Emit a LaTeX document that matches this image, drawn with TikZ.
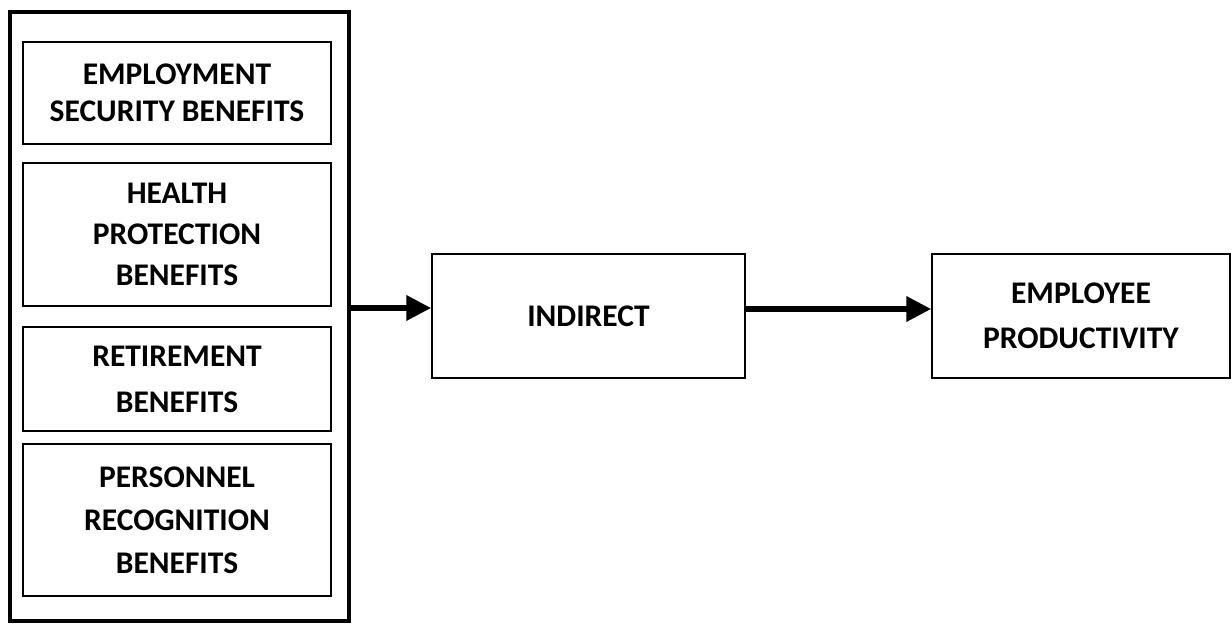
\documentclass[tikz,border=0pt]{standalone}
\usepackage{fontspec}
\setmainfont{Carlito}
\usetikzlibrary{arrows.meta}
\newcommand{\fs}[1]{\bfseries\fontsize{31.5}{#1}\selectfont}
\begin{document}
\begin{tikzpicture}[x=1pt,y=-1pt,
  box/.style={draw, line width=1.3pt, inner sep=0pt, align=center, minimum width=308pt},
  outerbox/.style={draw, line width=4.5pt, inner sep=0pt, minimum width=339pt, minimum height=609pt},
  arr/.style={line width=6.5pt, -{Triangle[length=25pt,width=24pt]}}]
\useasboundingbox (0,0) rectangle (1232,624);
\node[outerbox] (outer) at (179.5,316.5) {};
\node[box, minimum height=102pt, font=\fs{37}] (esb) at (177,93) {EMPLOYMENT\\SECURITY BENEFITS};
\node[box, minimum height=143pt, font=\fs{41}] (hpb) at (177,234.5) {HEALTH\\PROTECTION\\BENEFITS};
\node[box, minimum height=104pt, font=\fs{46}] (rb) at (177,379) {RETIREMENT\\BENEFITS};
\node[box, minimum height=152pt, font=\fs{43}] (prb) at (177,520) {PERSONNEL\\RECOGNITION\\BENEFITS};
\node[box, minimum width=313pt, minimum height=124pt, font=\fs{40}] (ind) at (588.5,316) {INDIRECT};
\node[box, minimum width=298pt, minimum height=124pt, font=\fs{45}] (emp) at (1081,316) {EMPLOYEE\\PRODUCTIVITY};
\coordinate (indin) at ([yshift=8pt]ind.west);
\draw[arr] (outer.east |- indin) -- (indin);
\draw[arr] ([yshift=7pt]ind.east) -- ([yshift=7pt]emp.west);
\end{tikzpicture}
\end{document}
